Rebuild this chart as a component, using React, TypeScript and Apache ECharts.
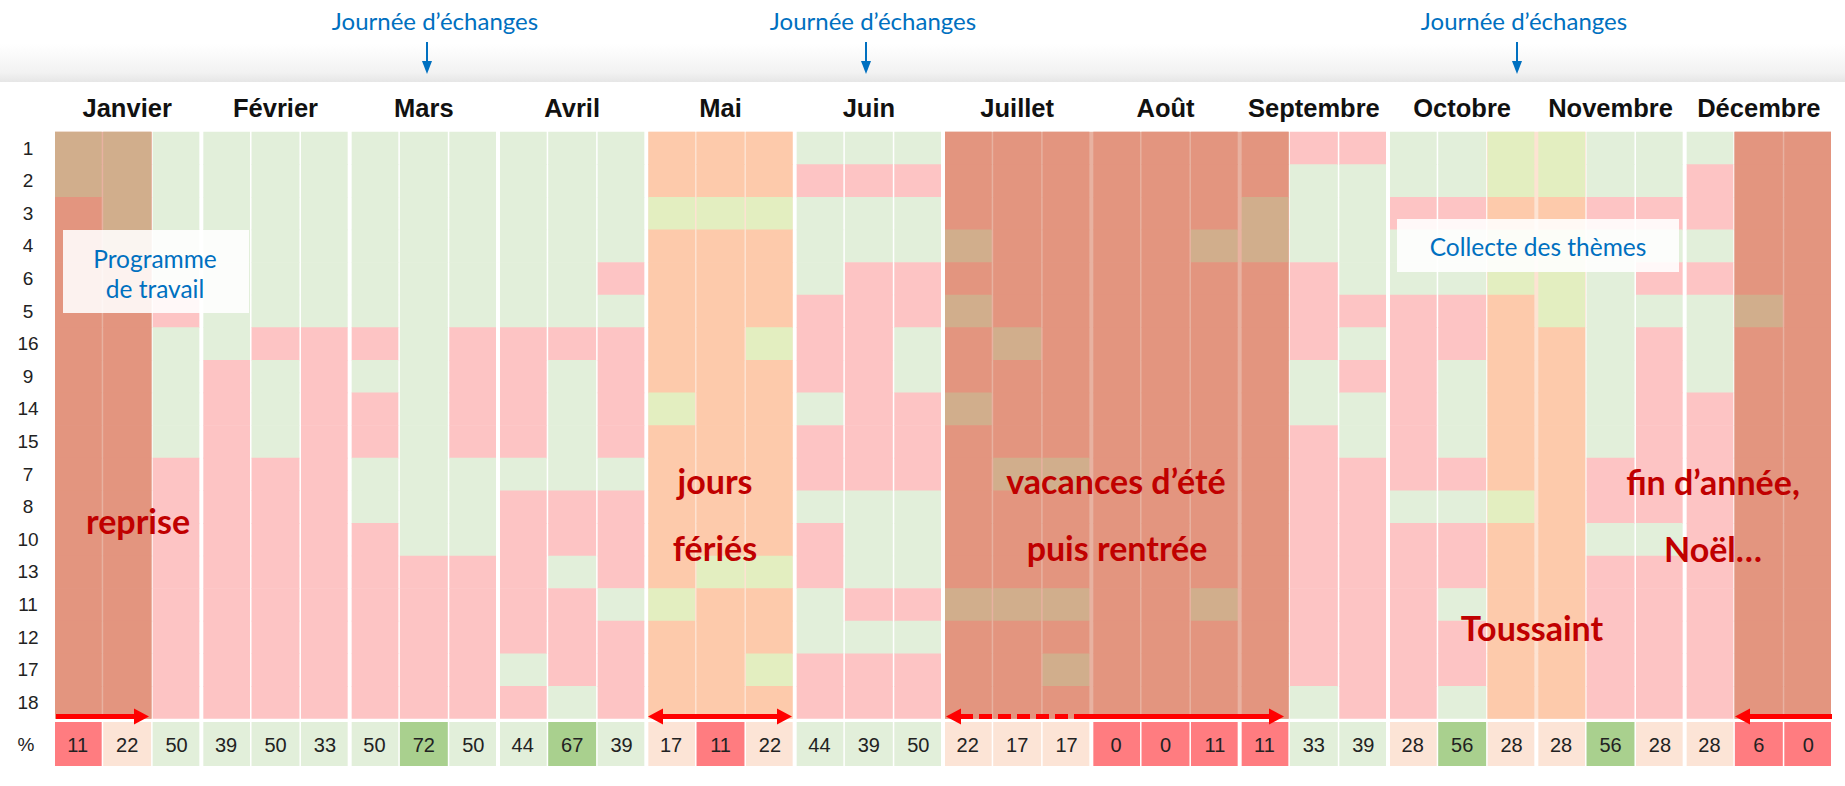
import React, { useEffect, useRef } from "react";
import * as echarts from "echarts";

// ---------- data ----------
const monthLabels = ["Janvier", "Février", "Mars", "Avril", "Mai", "Juin", "Juillet", "Août", "Septembre", "Octobre", "Novembre", "Décembre"];
const rowLabels = ["1", "2", "3", "4", "6", "5", "16", "9", "14", "15", "7", "8", "10", "13", "11", "12", "17", "18"];
// one string per column (3 per month), one char per row: G = disponible (vert), P = indisponible (rose)
const columnPatterns = [
  "GGPPPPPPPPPPPPPPPP", "GGGGPPPPPPPPPPPPPP", "GGGGGPGGGGPPPPPPPP",
  "GGGGGGGPPPPPPPPPPP", "GGGGGGPGGGPPPPPPPP", "GGGGGGPPPPPPPPPPPP",
  "GGGGGGPGPPGGPPPPPP", "GGGGGGGGGGGGGPPPPP", "GGGGGGPPPPGGGPPPPP",
  "GGGGGGPPPPGPPPPPGP", "GGGGGGPGGGGPPGPPPG", "GGGGPGPPPPGPPPGPPP",
  "PPGPPPPPGPPPPPGPPP", "PPGPPPPPPPPPPGPPPP", "PPGPPPGPPPPPPGPPGP",
  "GPGGGPPPGPPGPPGGPP", "GPGGPPPPPPPGGGPGPP", "GPGGPPGGPPPGGGPGPP",
  "PPPGPGPPGPPPPPGPPP", "PPPPPPGPPPGPPPGPPP", "PPPPPPPPPPGPPPGPGP",
  "PPPPPPPPPPPPPPPPPP", "PPPPPPPPPPPPPPPPPP", "PPPGPPPPPPPPPPGPPP",
  "PPGGPPPPPPPPPPPPPP", "PGGGPPPGGPPPPPPPPG", "PGGGGPGPGGPPPPPPPP",
  "GGPGGPPPPPPGPPPPPP", "GGPGGPPGGGPGPPGPPG", "GGPGGPPPPPPGPPPPPP",
  "GGPGGGPPPPPPPPPPPP", "GGPGGGGGGGPPGPPPPP", "GGPGPGPPPPPPGPPPPP",
  "GPPGPGGGPPPPPPPPPP", "PPPPPGPPPPPPPPPPPP", "PPPPPPPPPPPPPPPPPP",
];
// highlighted periods: D = vacances / reprise (dark), O = jours fériés / Toussaint (orange)
const overlayStart = [0, 12, 18, 29, 34];
const overlayEnd = [1, 14, 24, 30, 35];
const overlayKind = ["D", "O", "D", "O", "D"];
const percentValues = [11, 22, 50, 39, 50, 33, 50, 72, 50, 44, 67, 39, 17, 11, 22, 44, 39, 50, 22, 17, 17, 0, 0, 11, 11, 33, 39, 28, 56, 28, 28, 56, 28, 28, 6, 0];

// ---------- styling ----------
const cellColors: Record<string, string> = {
  G: "#e2efda", P: "#fdc4c4",
  DG: "#d1ae8c", DP: "#e3957f",
  OG: "#e3eec0", OP: "#fdcaab",
};
const bandColors: Record<string, string> = { D: "#e8b2a1", O: "#fde3d2" };
const pctColor = (v: number) => (v <= 11 ? "#ff7c80" : v <= 28 ? "#fce4d6" : v <= 50 ? "#e2efda" : "#a9d08e");

const ARIAL = "'Liberation Sans', Arial, sans-serif";
const CAL = "Lato, 'Open Sans', sans-serif";
const RED = "#c00000";
const BLUE = "#0070c0";

const colIds = columnPatterns.map((_, i) => String(i + 1));

function overlayOf(c: number): string {
  for (let k = 0; k < overlayStart.length; k++) {
    if (c >= overlayStart[k] && c <= overlayEnd[k]) return overlayKind[k];
  }
  return "";
}

const cellData: { value: number[]; code: string }[] = [];
columnPatterns.forEach((pat, c) => {
  const ov = overlayOf(c);
  pat.split("").forEach((ch, r) => {
    cellData.push({ value: [c, r], code: ov + ch });
  });
});

const gaps = (c: number) => [c % 3 === 0 ? 2 : 0.75, c % 3 === 2 ? 2 : 0.75];

// layout constants
const GL = 53, GR = 12, GT = 131.7, GH = 587;
const AY = 716.5;

function redArrow(x1: number, x2: number, headLeft: boolean, headRight: boolean, dashed = false): any[] {
  const els: any[] = [];
  const hl = 15, hh = 8;
  els.push({
    type: "line", z: 110,
    shape: { x1: headLeft ? x1 + hl - 1 : x1, y1: AY, x2: headRight ? x2 - hl + 1 : x2, y2: AY },
    style: { stroke: "#ff0000", lineWidth: 5, lineDash: dashed ? [13, 6] : null },
  });
  if (headLeft) els.push({ type: "polygon", z: 110, shape: { points: [[x1, AY], [x1 + hl, AY - hh], [x1 + hl, AY + hh]] }, style: { fill: "#ff0000" } });
  if (headRight) els.push({ type: "polygon", z: 110, shape: { points: [[x2, AY], [x2 - hl, AY - hh], [x2 - hl, AY + hh]] }, style: { fill: "#ff0000" } });
  return els;
}

function blueArrow(x: number): any[] {
  return [
    { type: "line", z: 110, shape: { x1: x, y1: 42, x2: x, y2: 64 }, style: { stroke: BLUE, lineWidth: 2 } },
    { type: "polygon", z: 110, shape: { points: [[x - 5, 61], [x + 5, 61], [x, 74]] }, style: { fill: BLUE } },
  ];
}

function label(text: string, x: number, y: number, size: number, color: string, bold: boolean): any {
  return {
    type: "text", z: 120, x, y,
    style: { text, fill: color, fontSize: size, fontWeight: bold ? "bold" : "normal", fontFamily: CAL, align: "center", verticalAlign: "middle" },
  };
}

export default function App() {
  const ref = useRef<HTMLDivElement>(null);
  useEffect(() => {
    if (!ref.current) return;
    const chart = echarts.init(ref.current, null, { renderer: "svg" });

    const graphic: any[] = [
      {
        type: "rect", z: 0, shape: { x: 0, y: 44, width: 1845, height: 38 },
        style: {
          fill: { type: "linear", x: 0, y: 0, x2: 0, y2: 1, colorStops: [{ offset: 0, color: "#ffffff" }, { offset: 0.75, color: "#f2f2f2" }, { offset: 1, color: "#e6e6e6" }] },
        },
      },
      label("Journée d’échanges", 435, 20, 24, BLUE, false),
      label("Journée d’échanges", 873, 20, 24, BLUE, false),
      label("Journée d’échanges", 1524, 20, 24, BLUE, false),
      ...blueArrow(427), ...blueArrow(866), ...blueArrow(1517),
      { type: "rect", z: 115, shape: { x: 63, y: 230, width: 186, height: 83 }, style: { fill: "rgba(255,255,255,0.88)" } },
      label("Programme", 155, 258, 24.5, BLUE, false),
      label("de travail", 155, 288, 24.5, BLUE, false),
      { type: "rect", z: 115, shape: { x: 1397, y: 219, width: 282, height: 53 }, style: { fill: "rgba(255,255,255,0.88)" } },
      label("Collecte des thèmes", 1538, 246, 24.5, BLUE, false),
      label("reprise", 138, 520, 34, RED, true),
      label("jours", 715, 480, 34, RED, true),
      label("fériés", 715, 547, 34, RED, true),
      label("vacances d’été", 1116, 480, 34, RED, true),
      label("puis rentrée", 1117, 547, 34, RED, true),
      label("Toussaint", 1532, 627, 34, RED, true),
      label("fin d’année,", 1713, 481, 34, RED, true),
      label("Noël…", 1713, 548, 34, RED, true),
      ...redArrow(56, 149, false, true),
      ...redArrow(648, 792, true, true),
      ...redArrow(946, 1089, true, false, true),
      ...redArrow(1087, 1284, false, true),
      ...redArrow(1735, 1832, true, false),
    ];

    const option: any = {
      animation: false,
      backgroundColor: "#ffffff",
      grid: [
        { left: GL, right: GR, top: GT, height: GH },
        { left: GL, right: GR, top: 722, height: 44 },
      ],
      xAxis: [
        { type: "category", gridIndex: 0, data: colIds, show: false },
        {
          type: "category", gridIndex: 0, position: "top", data: monthLabels,
          axisLine: { show: false }, axisTick: { show: false }, splitLine: { show: false },
          axisLabel: { interval: 0, fontSize: 25.5, fontWeight: "bold", color: "#111", fontFamily: ARIAL, margin: 11 },
        },
        { type: "category", gridIndex: 1, data: colIds, show: false },
      ],
      yAxis: [
        {
          type: "category", gridIndex: 0, data: rowLabels, inverse: true,
          axisLine: { show: false }, axisTick: { show: false }, splitLine: { show: false },
          axisLabel: { interval: 0, fontSize: 19, color: "#222", fontFamily: ARIAL, align: "center", margin: 25 },
        },
        {
          type: "category", gridIndex: 1, data: ["%"],
          axisLine: { show: false }, axisTick: { show: false }, splitLine: { show: false },
          axisLabel: { fontSize: 19, color: "#222", fontFamily: ARIAL, align: "center", margin: 27 },
        },
      ],
      series: [
        {
          type: "custom", name: "bands", xAxisIndex: 0, yAxisIndex: 0, z: 1, silent: true,
          data: overlayStart.map((s, k) => ({ value: [s, 0, overlayEnd[k]] })),
          renderItem: (params: any, api: any) => {
            const k = params.dataIndex;
            const s = api.value(0), e = api.value(2);
            const size = api.size([1, 1]);
            const p0 = api.coord([s, 0]);
            const p1 = api.coord([e, 0]);
            const left = p0[0] - size[0] / 2 + (s % 3 === 0 ? 2 : 0);
            const right = p1[0] + size[0] / 2 - (e % 3 === 2 ? 2 : 0);
            const top = p0[1] - size[1] / 2;
            return {
              type: "rect",
              shape: { x: left, y: top, width: right - left, height: size[1] * rowLabels.length },
              style: { fill: bandColors[overlayKind[k]] },
            };
          },
        },
        {
          type: "custom", name: "cells", xAxisIndex: 0, yAxisIndex: 0, z: 2, silent: true,
          data: cellData.map((d) => d.value),
          renderItem: (params: any, api: any) => {
            const c = api.value(0), r = api.value(1);
            const p = api.coord([c, r]);
            const size = api.size([1, 1]);
            const [gl, gr] = gaps(c);
            const last = r === rowLabels.length - 1;
            return {
              type: "rect",
              shape: { x: p[0] - size[0] / 2 + gl, y: p[1] - size[1] / 2, width: size[0] - gl - gr, height: size[1] + (last ? 0 : 0.6) },
              style: { fill: cellColors[cellData[params.dataIndex].code] },
            };
          },
        },
        {
          type: "custom", name: "pct", xAxisIndex: 2, yAxisIndex: 1, z: 2, silent: true,
          data: percentValues.map((v, i) => [i, 0, v]),
          renderItem: (params: any, api: any) => {
            const c = api.value(0);
            const v = api.value(2);
            const p = api.coord([c, 0]);
            const size = api.size([1, 1]);
            const [gl, gr] = gaps(c);
            return {
              type: "group",
              children: [
                { type: "rect", shape: { x: p[0] - size[0] / 2 + gl, y: p[1] - size[1] / 2, width: size[0] - gl - gr, height: size[1] }, style: { fill: pctColor(v) } },
                { type: "text", x: p[0], y: p[1] + 1, style: { text: String(v), fill: "#222", fontSize: 20, fontFamily: ARIAL, align: "center", verticalAlign: "middle" } },
              ],
            };
          },
        },
      ],
      graphic,
    };
    chart.setOption(option);
    return () => chart.dispose();
  }, []);
  return <div ref={ref} style={{ position: "fixed", left: 0, top: 0, width: "1845px", height: "786px", background: "#fff" }} />;
}
